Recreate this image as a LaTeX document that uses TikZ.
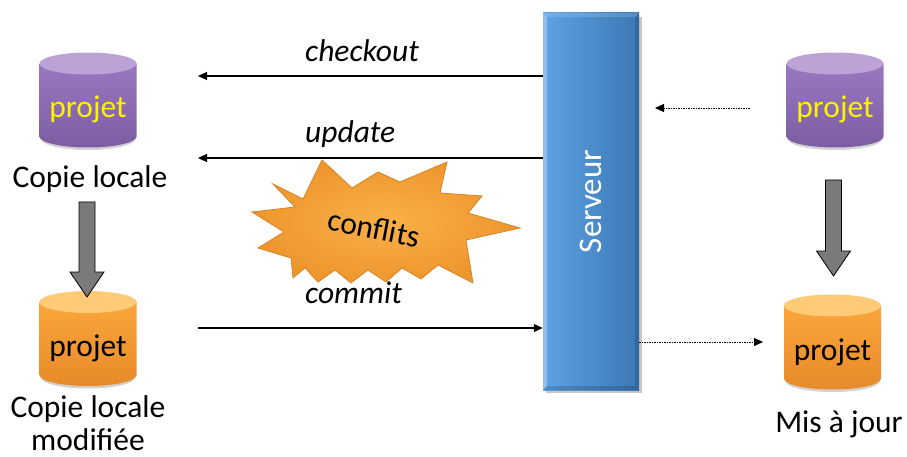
\documentclass[tikz,border=0pt]{standalone}
\usepackage{fontspec}
\setmainfont{Carlito}
\usetikzlibrary{arrows.meta,calc}

\definecolor{cylPurpleTop}{HTML}{BBA3D6}
\definecolor{cylPurpleHi}{HTML}{9A78C0}
\definecolor{cylPurpleLo}{HTML}{7C5DA2}
\definecolor{cylOrangeTop}{HTML}{FFCB76}
\definecolor{cylOrangeHi}{HTML}{FBA63C}
\definecolor{cylOrangeLo}{HTML}{E78A2A}
\definecolor{srvLeft}{HTML}{5DA3E3}
\definecolor{srvRight}{HTML}{3B77B5}
\definecolor{burstIn}{HTML}{FAB048}
\definecolor{burstOut}{HTML}{EE962E}
\definecolor{burstEdge}{HTML}{D88424}
\definecolor{blockGray}{HTML}{7A7A7A}

\tikzset{
  bigtext/.style={font=\fontsize{31.5}{33}\selectfont},
  % database cylinder: top ellipse colour / body top / body bottom / text colour
  pics/dbcyl/.style args={#1/#2/#3/#4}{code={
    \fill[black!18] (-47,-34) -- (-47,39) arc[start angle=180,end angle=0,x radius=47,y radius=11] -- (47,-34) -- cycle;
    \path[top color=#2, bottom color=#3]
      (-48.5,-36.5) -- (-48.5,36.5)
      arc[start angle=180,end angle=0,x radius=48.5,y radius=11]
      -- (48.5,-36.5) -- cycle;
    \fill[#1] (0,-36.5) ellipse[x radius=48.5,y radius=11];
    \node[bigtext, text=#4, anchor=base, inner sep=0pt] (-lbl) at (0,18) {projet};
    \coordinate (-in) at (0,-42);
  }},
  flow/.style={line width=1.1pt, -{Triangle[length=9pt,width=8pt]}},
  sync/.style={line width=0.9pt, dash pattern=on 2.2pt off 1pt on 0.8pt off 1pt,
    -{Triangle[length=9pt,width=8pt]}},
  cmd/.style={font=\fontsize{31.5}{33}\selectfont\itshape, anchor=base west, inner sep=0pt},
  caption/.style={bigtext, align=center, anchor=base, inner sep=0pt},
  blockarrow/.style={draw=black, line width=0.8pt, fill=blockGray,
    to path={let \p1=(\tikztostart), \p2=(\tikztotarget) in
      ({\x1-8pt},\y1) -- ({\x1+8pt},\y1) -- ({\x1+8pt},{\y2+25pt})
      -- ({\x1+17pt},{\y2+25pt}) -- (\x1,\y2) -- ({\x1-17pt},{\y2+25pt})
      -- ({\x1-8pt},{\y2+25pt}) -- cycle}},
  serverbox/.style={rectangle, minimum width=96pt, minimum height=377pt,
    left color=srvLeft, right color=srvRight, inner sep=0pt},
}

\begin{document}
\begin{tikzpicture}[x=1pt,y=-1pt]
\useasboundingbox (0,0) rectangle (907,457);
\fill[white] (0,0) rectangle (907,457);

% repositories
\pic (lc) at (88,100)   {dbcyl={cylPurpleTop/cylPurpleHi/cylPurpleLo/yellow}};
\pic (lm) at (88,338.5) {dbcyl={cylOrangeTop/cylOrangeHi/cylOrangeLo/black}};
\pic (rs) at (835,100)  {dbcyl={cylPurpleTop/cylPurpleHi/cylPurpleLo/yellow}};
\pic (ru) at (832.5,342){dbcyl={cylOrangeTop/cylOrangeHi/cylOrangeLo/black}};

% captions (the base anchor of a two-line caption is its last line)
\node[caption] (capLc) at (90,188) {Copie locale};
\node[caption] (capLm) at (88,450) {Copie locale\\modifiée};
\node[caption] (capRu) at (839,432) {Mis à jour};

% server
\fill[black!22] (546,17) rectangle (642,393);
\node[serverbox] (srv) at (591,201.5) {};
\fill[white,opacity=0.30] (543,13) -- (547,17) -- (547,386) -- (543,390) -- cycle;
\fill[white,opacity=0.15] (543,13) -- (639,13) -- (635,17) -- (547,17) -- cycle;
\fill[black,opacity=0.12] (639,13) -- (639,390) -- (635,386) -- (635,17) -- cycle;
\fill[black,opacity=0.15] (543,390) -- (639,390) -- (635,386) -- (547,386) -- cycle;
\node[rotate=90, text=white, font=\fontsize{33}{36}\selectfont] (srvTxt) at (srv.center) {Serveur};

% commands
\coordinate (coEnd) at (198,76);
\coordinate (upEnd) at (198,158);
\coordinate (cmStart) at (198,328);
\draw[flow] (srv.west |- coEnd) -- (coEnd);
\draw[flow] (srv.west |- upEnd) -- (upEnd);
\draw[flow] (cmStart) -- (srv.west |- cmStart);
\node[cmd] (lblCo) at (305,62) {checkout};
\node[cmd] (lblUp) at (305,143) {update};

% conflict burst
\shade[inner color=burstIn, outer color=burstOut, draw=burstEdge, line width=0.8pt, line join=miter]
  plot coordinates {
    (273,184) (303,199) (322,160) (352,188) (378,172) (400,182) (447,162)
    (440,193) (482,196) (468,213) (520,228) (466,240) (473,283) (438,265)
    (421,279) (402,268) (386,282) (368,270) (351,283) (335,270) (318,282)
    (305,268) (293,278) (291,258) (258,248) (284,232) (252,212) (295,207)
  } -- cycle;
\node[rotate=-11, font=\fontsize{31.5}{33}\selectfont] (conf) at (374,228) {conflits};
\node[cmd] (lblCm) at (305,303) {commit};

% synchronisation of the other copy
\coordinate (syncIn) at (750,108);
\coordinate (syncInEnd) at (655,108);
\coordinate (syncOutEnd) at (763,342);
\draw[sync] (syncIn) -- (syncInEnd);
\draw[sync] (srv.east |- syncOutEnd) -- (syncOutEnd);

% evolution of each copy
\coordinate (lcArr) at (87,202);
\coordinate (rsArr) at (833.5,180);
\coordinate (ruArr) at (833.5,276);
\draw[blockarrow] (lcArr) to (87,297);
\draw[blockarrow] (rsArr) to (ruArr);
\end{tikzpicture}
\end{document}
